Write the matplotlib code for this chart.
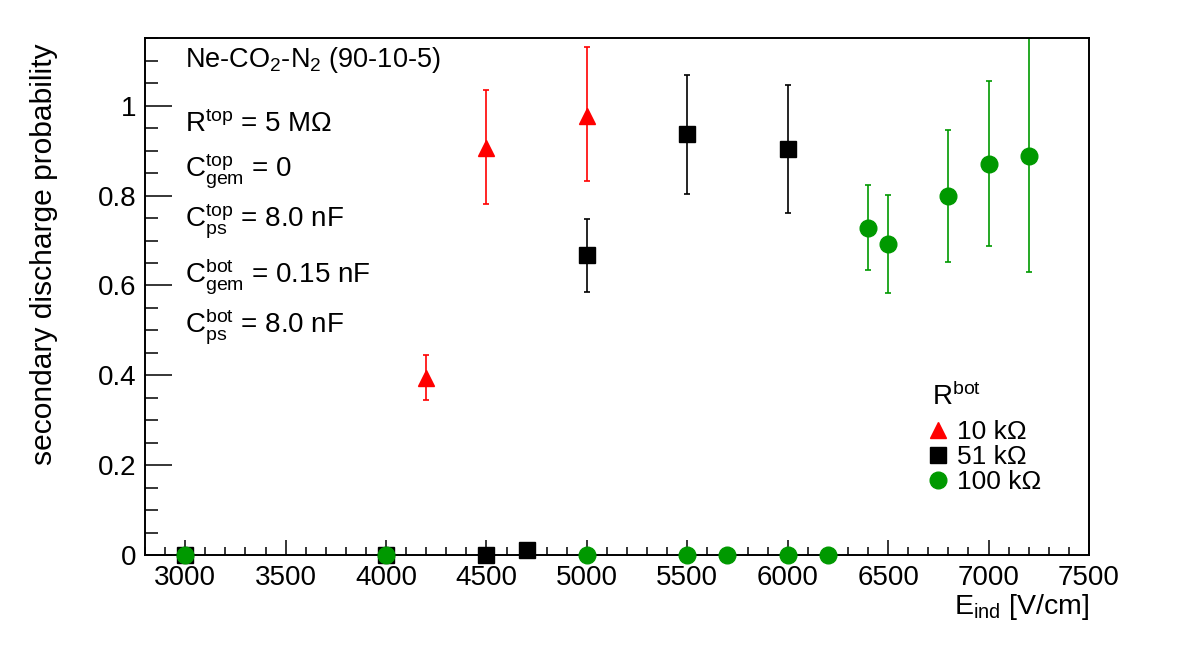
import matplotlib
matplotlib.use("Agg")
import matplotlib.pyplot as plt
from matplotlib.lines import Line2D
from matplotlib.ticker import MultipleLocator

plt.rcParams['font.family'] = ['Liberation Sans', 'DejaVu Sans']
plt.rcParams['mathtext.fontset'] = 'custom'
plt.rcParams['mathtext.rm'] = 'Liberation Sans'
plt.rcParams['mathtext.it'] = 'Liberation Sans:italic'

# R_bot = 10 kOhm
x10 = [4200, 4500, 5000]
y10 = [0.394, 0.906, 0.978]
lo10 = [0.049, 0.124, 0.145]
hi10 = [0.051, 0.129, 0.153]

# R_bot = 51 kOhm
x51 = [3000, 4000, 4500, 4700, 5000, 5500, 6000]
y51 = [0.0, 0.0, 0.0, 0.011, 0.668, 0.938, 0.904]
lo51 = [0, 0, 0, 0, 0.082, 0.134, 0.142]
hi51 = [0, 0, 0, 0, 0.080, 0.131, 0.143]

# R_bot = 100 kOhm
x100 = [3000, 4000, 5000, 5500, 5700, 6000, 6200, 6400, 6500, 6800, 7000, 7200]
y100 = [0, 0, 0, 0, 0, 0, 0, 0.729, 0.693, 0.800, 0.871, 0.889]
lo100 = [0, 0, 0, 0, 0, 0, 0, 0.094, 0.110, 0.147, 0.184, 0.259]
hi100 = [0, 0, 0, 0, 0, 0, 0, 0.095, 0.109, 0.147, 0.185, 0.262]

red = '#ff0000'
black = '#000000'
green = '#009900'

fig = plt.figure(figsize=(11.82, 6.46), dpi=100)
ax = fig.add_axes([145/1182, 91/646, 944/1182, 517/646])

ax.errorbar(x10, y10, yerr=[lo10, hi10], fmt='none', ecolor=red, elinewidth=1.2, capsize=2, capthick=1.2)
ax.plot(x10, y10, ls='none', marker='^', ms=11.5, color=red, clip_on=False, zorder=3)

ax.errorbar(x51, y51, yerr=[lo51, hi51], fmt='none', ecolor=black, elinewidth=1.2, capsize=2, capthick=1.2)
ax.plot(x51, y51, ls='none', marker='s', ms=11.5, color=black, clip_on=False, zorder=4)

ax.errorbar(x100, y100, yerr=[lo100, hi100], fmt='none', ecolor=green, elinewidth=1.2, capsize=2, capthick=1.2)
ax.plot(x100, y100, ls='none', marker='o', ms=12, color=green, clip_on=False, zorder=5)

ax.set_xlim(2800, 7500)
ax.set_ylim(0, 1.151)
ax.xaxis.set_major_locator(MultipleLocator(500))
ax.xaxis.set_minor_locator(MultipleLocator(100))
ax.yaxis.set_minor_locator(MultipleLocator(0.05))
ax.set_yticks([0, 0.2, 0.4, 0.6, 0.8, 1.0])
ax.set_yticklabels(['0', '0.2', '0.4', '0.6', '0.8', '1'])

for s in ax.spines.values():
    s.set_linewidth(1.4)
ax.tick_params(axis='both', which='both', direction='in', width=1.1, labelsize=20)
ax.tick_params(axis='x', which='major', length=11, pad=7)
ax.tick_params(axis='x', which='minor', length=5.6)
ax.tick_params(axis='y', which='major', length=19.5, pad=6)
ax.tick_params(axis='y', which='minor', length=9.7)

ax.set_xlabel('E$_{\\mathrm{ind}}$ [V/cm]', fontsize=20.5, loc='right')
ax.xaxis.set_label_coords(1.0, -0.072)
ax.set_ylabel('secondary discharge probability', fontsize=21.6, loc='top')
ax.yaxis.set_label_coords(-0.092, 0.99)

# info text
tx = 0.0424
ax.text(tx, 0.944, 'Ne-CO$_2$-N$_2$ (90-10-5)', transform=ax.transAxes, fontsize=19.5, va='baseline')
ax.text(tx, 0.818, 'R$^{\\mathrm{top}}$ = 5 M\u03a9', transform=ax.transAxes, fontsize=20, va='baseline')
ax.text(tx, 0.731, '$\\mathrm{C}^{\\mathrm{top}}_{\\mathrm{gem}}$ = 0', transform=ax.transAxes, fontsize=20, va='baseline')
ax.text(tx, 0.634, '$\\mathrm{C}^{\\mathrm{top}}_{\\mathrm{ps}}$ = 8.0 nF', transform=ax.transAxes, fontsize=20, va='baseline')
ax.text(tx, 0.528, '$\\mathrm{C}^{\\mathrm{bot}}_{\\mathrm{gem}}$ = 0.15 nF', transform=ax.transAxes, fontsize=20, va='baseline')
ax.text(tx, 0.431, '$\\mathrm{C}^{\\mathrm{bot}}_{\\mathrm{ps}}$ = 8.0 nF', transform=ax.transAxes, fontsize=20, va='baseline')

# legend
ax.text((932-145)/944, (555-405)/517, 'R$^{\\mathrm{bot}}$', transform=ax.transAxes, fontsize=20, va='baseline')
handles = [Line2D([], [], ls='none', marker='^', ms=11.5, color=red),
           Line2D([], [], ls='none', marker='s', ms=11.5, color=black),
           Line2D([], [], ls='none', marker='o', ms=12, color=green)]
labels = ['10 k\u03a9', '51 k\u03a9', '100 k\u03a9']
ax.legend(handles, labels, fontsize=19, loc='upper left', bbox_to_anchor=(0.832, 0.261),
          frameon=False, borderaxespad=0, borderpad=0, handlelength=0.6, handletextpad=0.4,
          labelspacing=0.04)

fig.savefig('out.png', dpi=100)
